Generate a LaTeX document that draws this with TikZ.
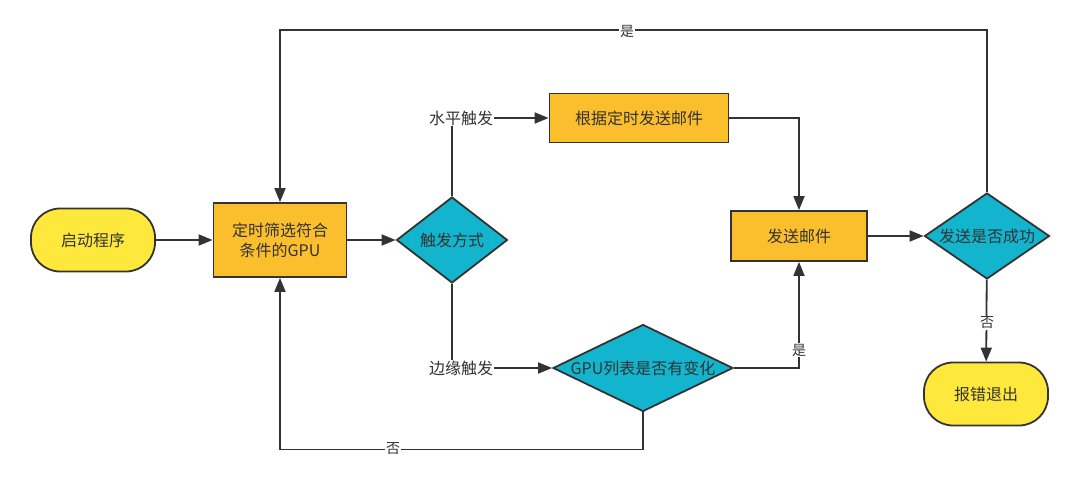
\documentclass[tikz,border=0pt]{standalone}
\usepackage{fontspec}
\setmainfont{Noto Sans CJK SC}
\usetikzlibrary{shapes.geometric,arrows.meta}
\definecolor{termyel}{HTML}{FFE83C}
\definecolor{boxorg}{HTML}{FBBE2C}
\definecolor{diacyan}{HTML}{12B4CE}
\definecolor{inkgray}{HTML}{333333}

\begin{document}
\begin{tikzpicture}[x=1pt,y=-1pt,
		every node/.style={font=\fontsize{16}{20}\selectfont, text=inkgray},
		term/.style={draw=inkgray, line width=1.8pt, fill=termyel, rounded corners=29pt, minimum width=124pt, minimum height=63pt},
		proc/.style={draw=inkgray, line width=1.8pt, fill=boxorg, minimum width=#1},
		dia/.style={diamond, draw=inkgray, line width=1.8pt, fill=diacyan, inner sep=0pt, minimum height=86pt},
		tag/.style={fill=white, inner sep=1pt, font=\fontsize{14}{16}\selectfont},
		wire/.style={draw=inkgray, line width=1.8pt},
		arr/.style={wire, -{Triangle[length=14pt,width=11pt]}}]
			\fill[white] (0,0) rectangle (1080,479);
			\node[term] (start) at (93,240) {启动程序};
			\node[proc=133pt, minimum height=74pt, align=center] (filt) at (280,240) {定时筛选符合\\条件的GPU};
			\node[dia, minimum width=111pt, label=center:{触发方式}] (trig) at (452,240) {};
			\node[proc=179pt, minimum height=49pt] (timed) at (639,118) {根据定时发送邮件};
			\node[proc=136pt, minimum height=50pt] (send) at (799,236) {发送邮件};
			\node[dia, minimum width=125pt, label=center:{发送是否成功}] (ok) at (987,236) {};
			\node[dia, minimum width=180pt, minimum height=87pt, label=center:{GPU列表是否有变化}] (chg) at (643,368) {};
			\node[term] (quit) at (986,394) {报错退出};

			\draw[arr] (start) -- (filt);
			\draw[arr] (filt) -- (trig);
			\draw[arr] (trig.north) |- (timed.west);
			\node[fill=white, inner sep=1pt] (hlab) at (461,118) {水平触发};
			\draw[arr] (trig.south) |- (chg.west);
			\node[fill=white, inner sep=1pt] (elab) at (461,368) {边缘触发};
			\draw[arr] (timed.east) -| (send.north);
			\draw[arr] (chg.east) -| (send.south);
			\node[tag] (yes1) at (799,350) {是};
			\draw[arr] (chg.south) -- ++(0,37) -| (filt.south);
			\node[tag] (no1) at (393,449) {否};
			\draw[arr] (send) -- (ok);
			\draw[arr] (ok.north) -- ++(0,-162) -| (filt.north);
			\node[tag] (yes2) at (627,31) {是};
			\draw[arr] (ok) -- (quit);
			\node[tag] (no2) at (987,323) {否};
		\end{tikzpicture}
\end{document}
